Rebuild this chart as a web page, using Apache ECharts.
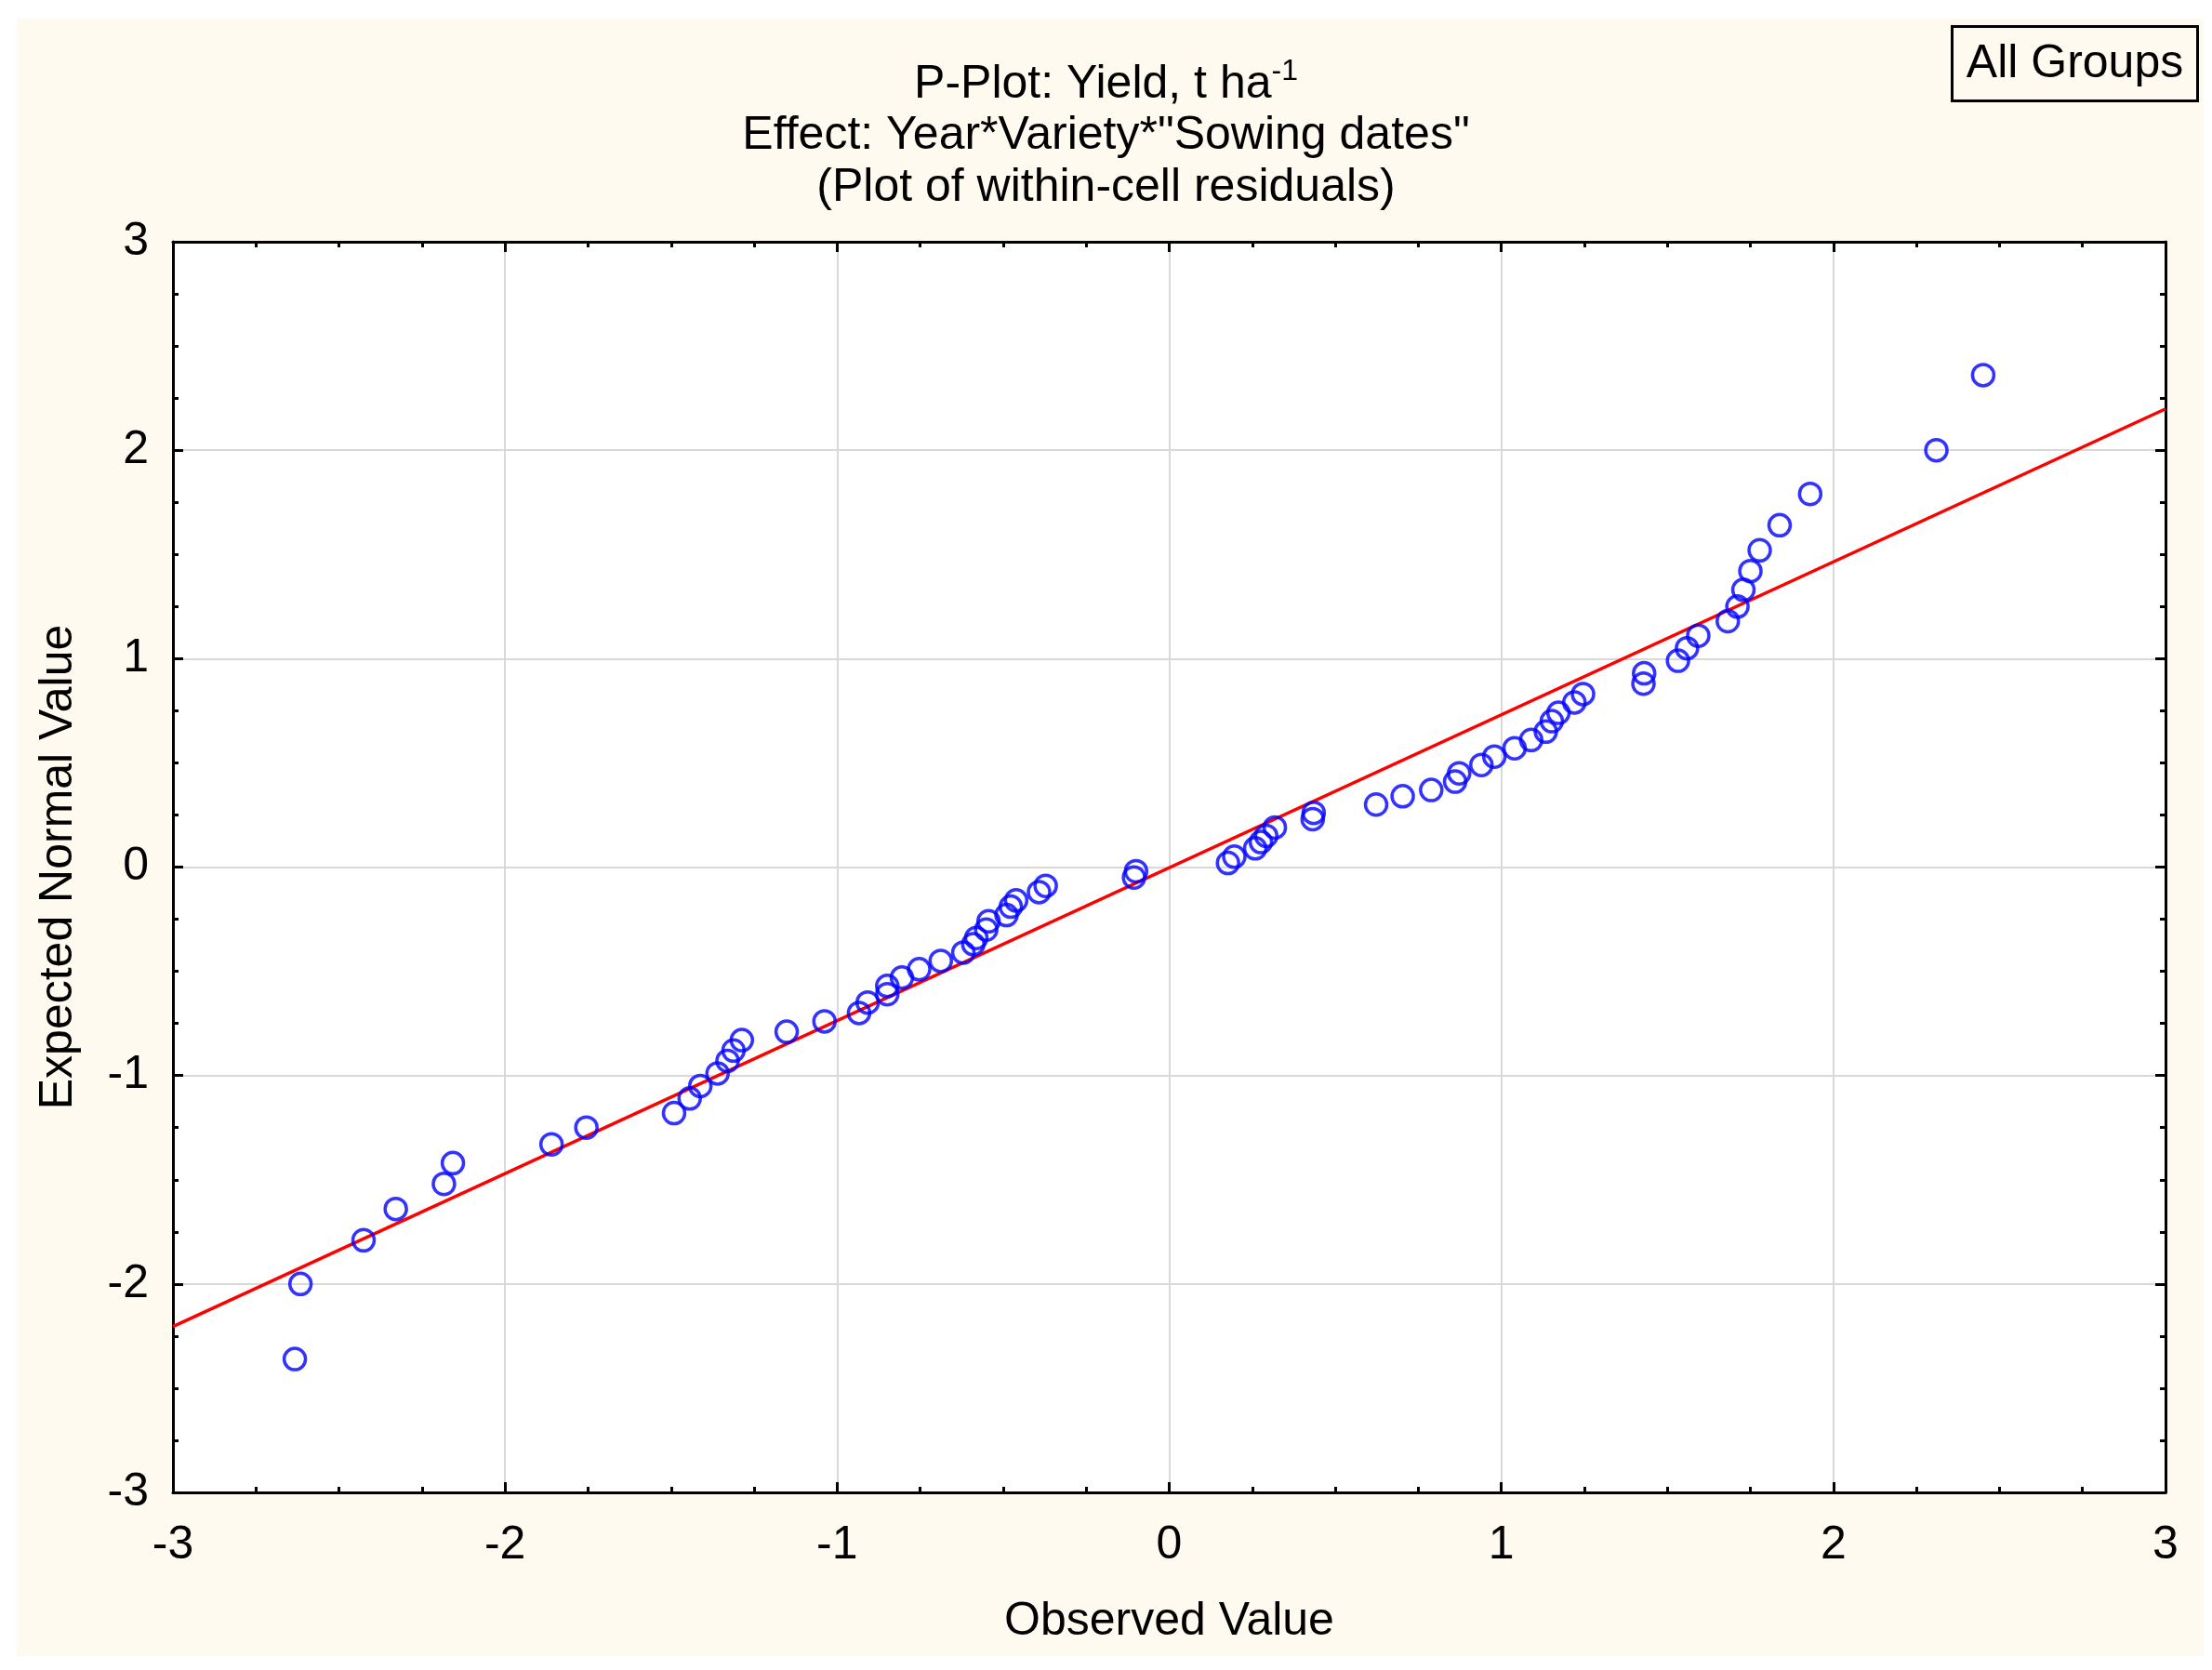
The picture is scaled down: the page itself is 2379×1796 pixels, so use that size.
<!DOCTYPE html>
<html>
<head>
<meta charset="utf-8">
<title>P-Plot: Yield</title>
<script src="https://cdn.jsdelivr.net/npm/echarts@6.0.0/dist/echarts.min.js"></script>
<style>
  html, body { margin: 0; padding: 0; background: #ffffff; }
  #pplot { width: 2379px; height: 1796px; }
</style>
</head>
<body>
<div id="pplot"></div>
<script>
// observed residuals (x) and expected normal values (y)
var observed = [
  -2.633, -2.616, -2.426, -2.329, -2.184, -2.157, -1.860, -1.755, -1.491, -1.444,
  -1.412, -1.360, -1.330, -1.312, -1.287, -1.152, -1.038, -0.934, -0.908, -0.849,
  -0.849, -0.805, -0.753, -0.688, -0.620, -0.590, -0.581, -0.551, -0.544, -0.490,
  -0.477, -0.461, -0.392, -0.372, -0.106, -0.100,
  0.177, 0.196, 0.259, 0.276, 0.292, 0.318, 0.432, 0.435, 0.623, 0.703,
  0.789, 0.861, 0.873, 0.940, 0.979, 1.040, 1.090, 1.134, 1.152, 1.172,
  1.220, 1.246, 1.428, 1.430, 1.532, 1.559, 1.593, 1.682, 1.711, 1.729,
  1.750, 1.778, 1.838, 1.930, 2.310, 2.451
];
var expected = [
  -2.36, -2.00, -1.79, -1.64, -1.52, -1.42, -1.33, -1.25, -1.18, -1.11,
  -1.05, -0.99, -0.93, -0.88, -0.83, -0.79, -0.74, -0.70, -0.65, -0.61,
  -0.57, -0.53, -0.49, -0.45, -0.41, -0.37, -0.34, -0.30, -0.26, -0.23,
  -0.19, -0.16, -0.12, -0.09, -0.05, -0.02,
  0.02, 0.05, 0.09, 0.12, 0.15, 0.19, 0.23, 0.26, 0.30, 0.34,
  0.37, 0.41, 0.45, 0.49, 0.53, 0.57, 0.61, 0.65, 0.70, 0.74,
  0.79, 0.83, 0.88, 0.93, 0.99, 1.05, 1.11, 1.18, 1.25, 1.33,
  1.42, 1.52, 1.64, 1.79, 2.00, 2.36
];
// reference line end points
var lineX = [-3, 3];
var lineY = [-2.204, 2.198];
var axisTicks = [-3, -2, -1, 0, 1, 2, 3];

var chartDom = document.getElementById("pplot");
var myChart = echarts.init(chartDom);
var option;

var FONT = "'Liberation Sans', Arial, sans-serif";
var FS = 50;

var points = observed.map(function (v, i) {
  return [v, expected[i]];
});
var linePts = lineX.map(function (v, i) {
  return [v, lineY[i]];
});

function axisBase(pos, showLabels) {
  return {
    type: "value",
    position: pos,
    min: axisTicks[0],
    max: axisTicks[axisTicks.length - 1],
    interval: 1,
    axisLine: { show: true, onZero: false, lineStyle: { color: "#000", width: 3 } },
    axisTick: { show: true, inside: true, length: 11, lineStyle: { color: "#000", width: 3 } },
    minorTick: { show: true, splitNumber: 4, length: 6, lineStyle: { color: "#000", width: 3 } },
    splitLine: { show: showLabels, lineStyle: { color: "#d9d9d9", width: 2 } },
    axisLabel: {
      show: showLabels,
      color: "#000",
      fontFamily: FONT,
      fontSize: FS
    }
  };
}

var xBottom = axisBase("bottom", true);
xBottom.name = "Observed Value";
xBottom.nameLocation = "middle";
xBottom.nameGap = 114;
xBottom.nameTextStyle = { color: "#000", fontFamily: FONT, fontSize: FS };
xBottom.axisLabel.margin = 32;

var xTop = axisBase("top", false);

var yLeft = axisBase("left", true);
yLeft.name = "Expected Normal Value";
yLeft.nameLocation = "middle";
yLeft.nameGap = 98;
yLeft.nameTextStyle = { color: "#000", fontFamily: FONT, fontSize: FS };
yLeft.axisLabel.margin = 26;

var yRight = axisBase("right", false);

option = {
  backgroundColor: "#ffffff",
  animation: false,
  title: [
    {
      text: "{m|P-Plot: Yield, t ha}{s|-1}",
      left: "center",
      top: 56,
      textStyle: {
        rich: {
          m: { fontFamily: FONT, fontSize: FS, fontWeight: "normal", color: "#000", lineHeight: 60 },
          s: { fontFamily: FONT, fontSize: 32, fontWeight: "normal", color: "#000", lineHeight: 32, verticalAlign: "top" }
        }
      }
    },
    {
      text: 'Effect: Year*Variety*"Sowing dates"',
      left: "center",
      top: 116,
      textStyle: { fontFamily: FONT, fontSize: FS, fontWeight: "normal", color: "#000" }
    },
    {
      text: "(Plot of within-cell residuals)",
      left: "center",
      top: 172,
      textStyle: { fontFamily: FONT, fontSize: FS, fontWeight: "normal", color: "#000" }
    }
  ],
  graphic: [
    {
      type: "rect",
      z: -10,
      silent: true,
      shape: { x: 18, y: 20, width: 2352, height: 1761 },
      style: { fill: "#fefaf0" }
    },
    {
      type: "group",
      right: 14,
      top: 27,
      children: [
        {
          type: "rect",
          shape: { x: 0, y: 0, width: 264, height: 80 },
          style: { fill: "#fefaf0", stroke: "#000", lineWidth: 3 }
        },
        {
          type: "text",
          x: 132,
          y: 41,
          style: {
            text: "All Groups",
            fontFamily: FONT,
            fontSize: FS,
            fill: "#000",
            align: "center",
            verticalAlign: "middle"
          }
        }
      ]
    }
  ],
  grid: {
    left: 186,
    right: 50,
    top: 260,
    bottom: 191,
    show: true,
    backgroundColor: "#ffffff",
    borderColor: "#000",
    borderWidth: 0
  },
  xAxis: [xBottom, xTop],
  yAxis: [yLeft, yRight],
  series: [
    {
      name: "Line",
      type: "line",
      data: linePts,
      showSymbol: false,
      lineStyle: { color: "#ff0000", width: 3.5 },
      z: 2
    },
    {
      name: "Residuals",
      type: "scatter",
      data: points,
      symbol: "circle",
      symbolSize: 23,
      itemStyle: { color: "rgba(0,0,0,0)", borderColor: "#0000ff", borderWidth: 3.5 },
      z: 3
    }
  ]
};

option && myChart.setOption(option);
</script>
</body>
</html>
